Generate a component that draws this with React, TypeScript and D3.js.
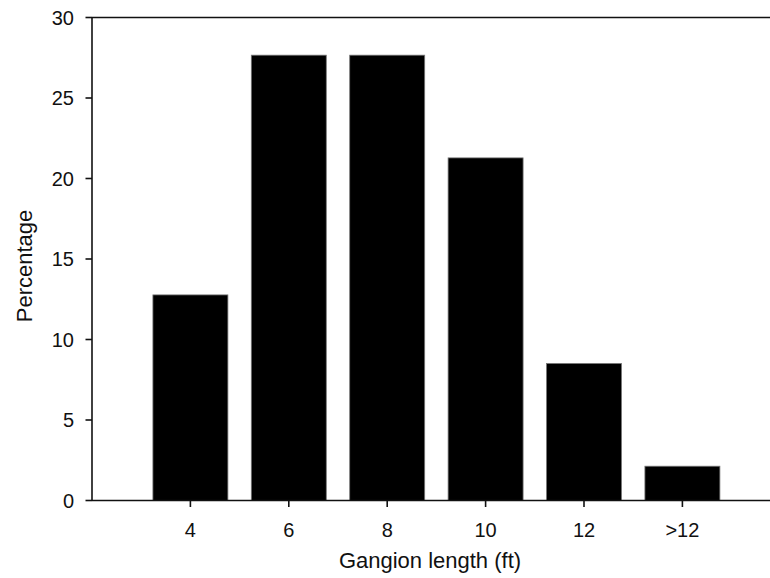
import React from "react";
import * as d3 from "d3";

const categories = ["4", "6", "8", "10", "12", ">12"];
const percentages = [12.77, 27.66, 27.66, 21.28, 8.51, 2.13];
const yTicks = [0, 5, 10, 15, 20, 25, 30];

const W = 770;
const H = 578;
const left = 92;
const top = 17.5;
const bottom = 500.5;
const step = 98.4;

export default function App() {
  const y = d3.scaleLinear().domain([0, 30]).range([bottom, top]);
  const x = d3
    .scaleBand<string>()
    .domain(categories)
    .range([left + step * 0.5, left + step * 6.5])
    .paddingInner(0.238)
    .paddingOuter(0.119);
  const font = "'Liberation Sans', Arial, sans-serif";
  return (
    <svg
      width={W}
      height={H}
      style={{ position: "absolute", left: 0, top: 0, background: "#fff" }}
      fontFamily={font}
    >
      {categories.map((c, i) => (
        <rect
          key={c}
          x={x(c)}
          y={y(percentages[i])}
          width={x.bandwidth()}
          height={y(0) - y(percentages[i])}
          fill="#000"
          stroke="#777"
          strokeWidth={0.8}
        />
      ))}
      {/* axes lines */}
      <line x1={left} x2={W} y1={top} y2={top} stroke="#111" strokeWidth={1.6} />
      <line x1={left} x2={W} y1={bottom} y2={bottom} stroke="#111" strokeWidth={1.6} />
      <line x1={left} x2={left} y1={top} y2={bottom} stroke="#111" strokeWidth={1.6} />
      {yTicks.map((t) => (
        <g key={t}>
          <line x1={left - 6.5} x2={left} y1={y(t)} y2={y(t)} stroke="#111" strokeWidth={1.6} />
          <text
            x={74}
            y={y(t)}
            dy="0.36em"
            textAnchor="end"
            fontSize={20}
            fill="#111"
          >
            {t}
          </text>
        </g>
      ))}
      {categories.map((c) => {
        const cx = (x(c) as number) + x.bandwidth() / 2;
        return (
          <g key={c}>
            <line x1={cx} x2={cx} y1={bottom} y2={bottom + 6.5} stroke="#111" strokeWidth={1.6} />
            <text x={cx} y={537} textAnchor="middle" fontSize={20} fill="#111">
              {c}
            </text>
          </g>
        );
      })}
      <text x={430} y={568} textAnchor="middle" fontSize={22} fill="#111">
        Gangion length (ft)
      </text>
      <text
        transform="translate(32,266) rotate(-90)"
        textAnchor="middle"
        fontSize={22}
        fill="#111"
      >
        Percentage
      </text>
    </svg>
  );
}
